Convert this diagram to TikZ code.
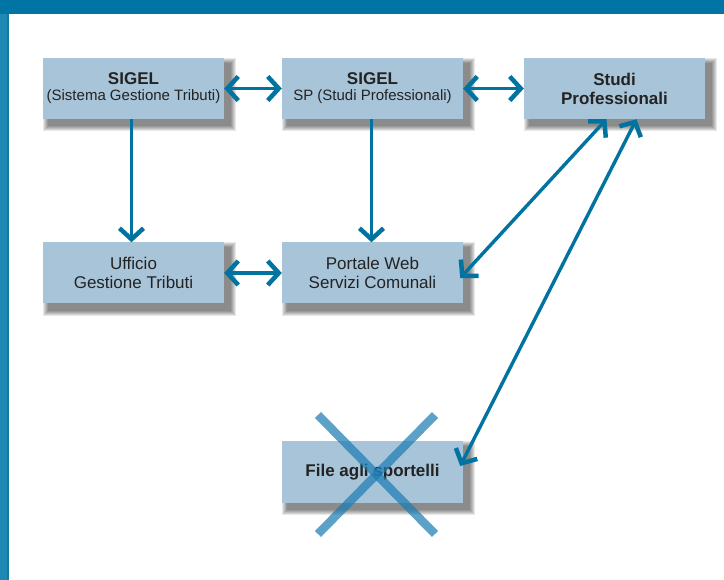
\documentclass[tikz,border=0pt]{standalone}
\usepackage{fontspec}
\setmainfont{Liberation Sans}
\usetikzlibrary{arrows.meta,backgrounds}
\definecolor{barblue}{RGB}{0,117,163}
\definecolor{sideblue}{RGB}{32,137,179}
\definecolor{sideedge}{RGB}{20,121,165}
\definecolor{boxfill}{RGB}{168,196,216}
\definecolor{arrowblue}{RGB}{0,115,160}
\definecolor{crossblue}{RGB}{30,125,180}
\definecolor{txt}{RGB}{35,35,35}
\tikzset{
  box/.style={draw=none, fill=boxfill, minimum width=181pt, minimum height=61pt,
    inner sep=0pt, align=center, text=txt,
    font=\fontsize{17}{19}\selectfont},
  shadowlayer/.style={fill=black, fill opacity=0.095},
  conn/.style={draw=arrowblue, line width=3.4pt,
    arrows={-Straight Barb[length=11pt,width=24pt,line width=4.5pt]}},
  biconn/.style={draw=arrowblue, line width=3.4pt,
    arrows={Straight Barb[length=11pt,width=24pt,line width=4.5pt]-Straight Barb[length=11pt,width=24pt,line width=4.5pt]}},
  crossline/.style={draw=crossblue, line width=8.5pt, draw opacity=0.72}
}
\newcommand{\boxshadow}[1]{%
  \foreach \r in {6,5,4,3,2,1}{%
    \fill[shadowlayer] ([shift={(6-\r,6-\r)}]#1.north west) rectangle ([shift={(6+\r,6+\r)}]#1.south east);
  }%
}
\begin{document}
\begin{tikzpicture}[x=1pt,y=-1pt]
\useasboundingbox (0,0) rectangle (724,580);
% boxes
\node[box] (s1) at (133.5,88.5) {\textbf{SIGEL}\\[-3pt]{\fontsize{15}{16}\selectfont (Sistema Gestione Tributi)}};
\node[box] (s2) at (372.5,88.5) {\textbf{SIGEL}\\[-3pt]{\fontsize{15}{16}\selectfont SP (Studi Professionali)}};
\node[box] (st) at (614.5,88.5) {\textbf{Studi}\\\textbf{Professionali}};
\node[box] (uf) at (133.5,273) {Ufficio\\Gestione Tributi};
\node[box] (po) at (372.5,273) {Portale Web\\Servizi Comunali};
\node[box] (fi) at (372.5,472) {\textbf{File agli sportelli}};
\begin{pgfonlayer}{background}
  \fill[white] (0,0) rectangle (724,580);
  \fill[barblue] (0,0) rectangle (724,14);
  \fill[sideblue] (0,14) rectangle (7,580);
  \fill[sideedge] (7,14) rectangle (9,580);
  \boxshadow{s1}
  \boxshadow{s2}
  \boxshadow{st}
  \boxshadow{uf}
  \boxshadow{po}
  \boxshadow{fi}
\end{pgfonlayer}
% connection points
\coordinate (stA) at ([xshift=-8pt]st.south);
\coordinate (stB) at ([xshift=22pt]st.south);
\coordinate (poE) at ([xshift=-3pt,yshift=-5pt]po.east);
\coordinate (fiE) at ([xshift=-3pt,yshift=6pt]fi.east);
% connectors
\draw[biconn] (s1.east) -- (s2.west);
\draw[biconn] (s2.east) -- (st.west);
\draw[conn] ([xshift=-2pt]s1.south) -- ([xshift=-2pt]uf.north);
\draw[conn] ([xshift=-1pt]s2.south) -- ([xshift=-1pt]po.north);
\draw[biconn] (uf.east) -- (po.west);
\draw[biconn] (stA) -- (poE);
\draw[biconn] (stB) -- (fiE);
% cross over the last box
\coordinate (c1) at (318,415);
\coordinate (c2) at (435,534);
\coordinate (c3) at (435,415);
\coordinate (c4) at (318,534);
\draw[crossline] (c1) -- (c2);
\draw[crossline] (c3) -- (c4);
\end{tikzpicture}
\end{document}
